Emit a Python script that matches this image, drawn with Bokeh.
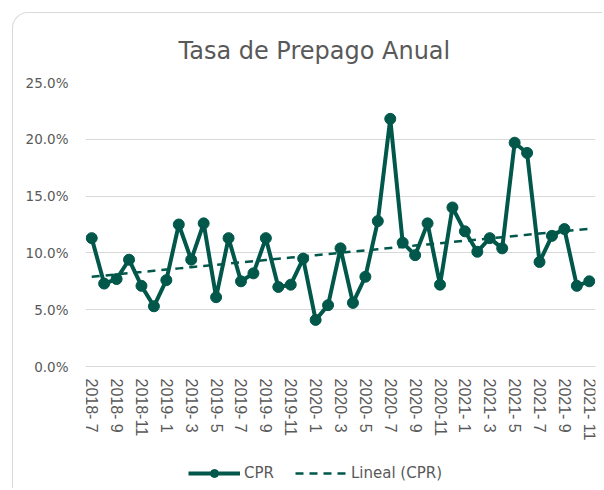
import numpy as np
from bokeh.plotting import figure
from bokeh.models import FixedTicker, Legend, LegendItem, ColumnDataSource
from bokeh.embed import file_html
from bokeh.resources import INLINE

months = ["2018- 7", "2018- 8", "2018- 9", "2018-10", "2018-11", "2018-12",
          "2019- 1", "2019- 2", "2019- 3", "2019- 4", "2019- 5", "2019- 6",
          "2019- 7", "2019- 8", "2019- 9", "2019-10", "2019-11", "2019-12",
          "2020- 1", "2020- 2", "2020- 3", "2020- 4", "2020- 5", "2020- 6",
          "2020- 7", "2020- 8", "2020- 9", "2020-10", "2020-11", "2020-12",
          "2021- 1", "2021- 2", "2021- 3", "2021- 4", "2021- 5", "2021- 6",
          "2021- 7", "2021- 8", "2021- 9", "2021-10", "2021- 11"]

cpr = [11.3, 7.3, 7.7, 9.4, 7.1, 5.3, 7.6, 12.5, 9.4, 12.6,
       6.1, 11.3, 7.5, 8.2, 11.3, 7.0, 7.2, 9.5, 4.1, 5.4,
       10.4, 5.6, 7.9, 12.8, 21.8, 10.9, 9.8, 12.6, 7.2, 14.0,
       11.9, 10.1, 11.3, 10.4, 19.7, 18.8, 9.2, 11.5, 12.1, 7.1, 7.5]

y_ticks = [0, 5, 10, 15, 20, 25]
y_tick_labels = ["0.0%", "5.0%", "10.0%", "15.0%", "20.0%", "25.0%"]

idx = list(range(len(cpr)))
slope, intercept = np.polyfit(idx, cpr, 1)
trend = [slope * i + intercept for i in idx]

GREEN = "#00574A"
GRAY_TXT = "#595959"
FONT = "DejaVu Sans"

# canvas starts at page (13, 13); frame: page x 85..595, y 82..489
p = figure(width=590, height=476, output_backend="svg", toolbar_location=None,
           x_range=(-0.5, len(cpr) - 0.5), y_range=(-123 / 11.36, 25),
           min_border_left=72, min_border_right=8, min_border_top=69,
           min_border_bottom=0)
p.margin = (12, 0, 0, 12)
p.styles = {"border-top": "1px solid #D9D9D9", "border-left": "1px solid #D9D9D9",
            "border-top-left-radius": "16px"}
p.outline_line_color = None
p.background_fill_color = "white"
p.border_fill_color = None
p.border_fill_alpha = 0

p.title.text = "Tasa de Prepago Anual"
p.title.align = "left"
p.title.offset = 93
p.title.text_font = FONT
p.title.text_font_size = "24px"
p.title.text_font_style = "normal"
p.title.text_color = GRAY_TXT
p.title.standoff = 35

src = ColumnDataSource(dict(x=idx, y=cpr, t=trend))
r_trend = p.line("x", "t", source=src, line_color=GREEN, line_width=2.5, line_dash="8 6")
r_line = p.line("x", "y", source=src, line_color=GREEN, line_width=4)
r_pts = p.scatter("x", "y", source=src, size=11, fill_color=GREEN, line_color=GREEN)

p.xgrid.grid_line_color = None
p.ygrid.grid_line_color = "#D9D9D9"
p.ygrid.grid_line_width = 1

p.yaxis.ticker = FixedTicker(ticks=y_ticks)
p.yaxis.major_label_overrides = {t: l for t, l in zip(y_ticks, y_tick_labels)}
p.yaxis.axis_line_color = None
p.yaxis.major_tick_line_color = None
p.yaxis.minor_tick_line_color = None
p.yaxis.major_tick_out = 0
p.yaxis.major_tick_in = 0
p.yaxis.major_label_standoff = 17
p.yaxis.major_label_text_font = FONT
p.yaxis.major_label_text_font_size = "13.5px"
p.yaxis.major_label_text_color = GRAY_TXT

xt = idx[::2]
p.xaxis.ticker = FixedTicker(ticks=xt)
p.xaxis.fixed_location = 0
p.xaxis.major_label_overrides = {i: months[i] for i in xt}
p.xaxis.major_label_orientation = "vertical"
p.xaxis.axis_line_color = "#D9D9D9"
p.xaxis.major_tick_line_color = None
p.xaxis.minor_tick_line_color = None
p.xaxis.major_tick_out = 0
p.xaxis.major_tick_in = 0
p.xaxis.major_label_standoff = 12
p.xaxis.major_label_text_font = "Liberation Sans"
p.xaxis.major_label_text_font_size = "16px"
p.xaxis.major_label_text_color = GRAY_TXT

legend = Legend(items=[LegendItem(label="CPR", renderers=[r_line, r_pts]),
                       LegendItem(label="Lineal (CPR)", renderers=[r_trend])],
                orientation="horizontal", location=(103, 6))
legend.glyph_width = 52
legend.label_text_font = FONT
legend.label_text_font_size = "15px"
legend.label_text_color = GRAY_TXT
legend.label_standoff = 4
legend.spacing = 21
legend.border_line_color = None
legend.background_fill_alpha = 0
legend.padding = 2
legend.margin = 0
p.add_layout(legend)

open("out.html", "w").write(file_html(p, INLINE))
